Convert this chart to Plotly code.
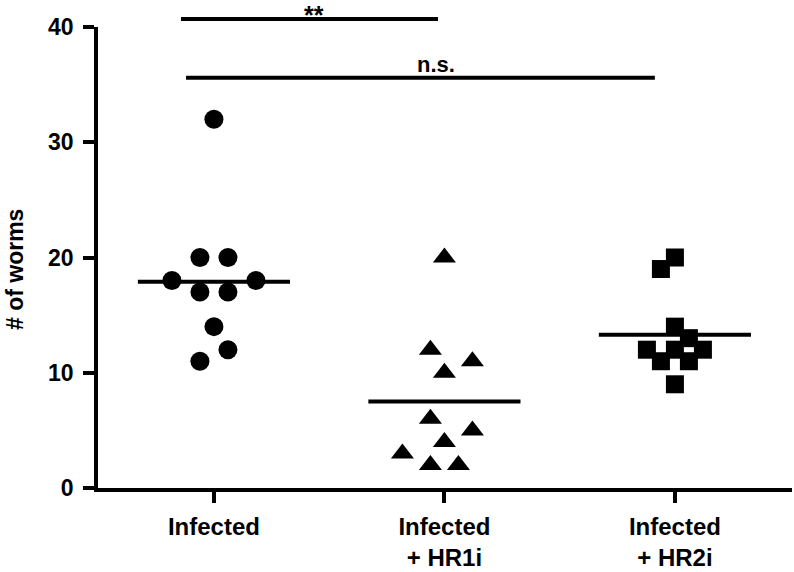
import numpy as np
import plotly.graph_objects as go

# worm counts per animal (listed in entry order)
groups = ["Infected", "Infected<br>+ HR1i", "Infected<br>+ HR2i"]
infected = [32, 20, 20, 17, 17, 18, 18, 14, 12, 11]
hr1i = [20, 10, 11, 12, 2, 2, 4, 3, 5, 6]
hr2i = [9, 11, 11, 12, 12, 12, 14, 13, 20, 19]

# significance brackets: label, from, to (category units), height (# of worms)
sig_text = ["**", "n.s."]
sig_from = [-0.143, -0.121]
sig_to = [0.972, 1.913]
sig_level = [40.7, 35.6]

W, H = 794, 572
L, R, T, B = 98, 2, 27, 84
XR = [-0.503, 2.508]
YR = [0, 40]
FONT = "Liberation Sans, Arial, sans-serif"

kx = (W - L - R) / (XR[1] - XR[0])   # px per category unit
ky = (H - T - B) / (YR[1] - YR[0])   # px per worm


def swarm(vals, gap, step=14):
    # greedy horizontal spreading (in px), points of equal value laid out symmetrically
    placed = []
    off = [0.0] * len(vals)
    done = []
    for v in vals:
        if v in done:
            continue
        done.append(v)
        idx = [i for i, w in enumerate(vals) if w == v]
        n = len(idx)
        bal = sum(p for p, _ in placed)
        cands = []
        for sp in range(2, 16):
            if n == 1 and sp > 2:
                break
            if n % 2 == 0 and sp % 2:
                continue
            for sh in range(0, 16):
                for sg in ((1, -1) if sh else (1,)):
                    pos = [((i - (n - 1) / 2) * sp + sg * sh) * step for i in range(n)]
                    cands.append((max(abs(p) for p in pos), sh, sg * bal > 0, pos))
        cands.sort(key=lambda c: (c[0], c[1], c[2]))
        y = v * ky
        for c in cands:
            pos = c[3]
            if all(np.hypot(p - px, y - py) >= gap for p in pos for px, py in placed):
                break
        for i, p in zip(idx, pos):
            off[i] = p / kx
            placed.append((p, y))
    return off


def paper_y(v):
    return (v - YR[0]) / (YR[1] - YR[0])


fig = go.Figure()

series = [(infected, "circle", 19, 25), (hr1i, "triangle-up", 20, 25), (hr2i, "square", 18, 17)]
for gi, (vals, sym, size, gap) in enumerate(series):
    off = swarm(vals, gap)
    fig.add_trace(go.Scatter(
        x=[gi + o for o in off], y=vals, mode="markers",
        marker=dict(symbol=sym, size=size, color="black", line=dict(width=0)),
        cliponaxis=False, showlegend=False))
    m = np.mean(vals)
    fig.add_trace(go.Scatter(
        x=[gi - 0.33, gi + 0.33], y=[m, m], mode="lines",
        line=dict(color="black", width=4), showlegend=False))

for txt, x0, x1, lev in zip(sig_text, sig_from, sig_to, sig_level):
    fig.add_shape(type="line", xref="x", yref="paper", x0=x0, x1=x1,
                  y0=paper_y(lev), y1=paper_y(lev), line=dict(color="black", width=4))

fig.add_annotation(x=0.434, xref="x", y=paper_y(YR[1]), yref="paper",
                   yanchor="bottom", yshift=-3, borderpad=0, text=sig_text[0], showarrow=False,
                   font=dict(family=FONT, size=25, color="black", weight="bold"))
fig.add_annotation(x=0.963, xref="x", y=paper_y(sig_level[1]), yref="paper",
                   yanchor="bottom", yshift=-1, text=sig_text[1], showarrow=False,
                   font=dict(family=FONT, size=22, color="black", weight="bold"))

fig.add_annotation(x=-0.1196, xref="paper", y=0.475, yref="paper", text="# of worms",
                   textangle=-90, showarrow=False, xanchor="center", yanchor="middle",
                   font=dict(family=FONT, size=23, color="black", weight="bold"))

axis_common = dict(showline=True, linecolor="black", linewidth=3.5, ticks="outside",
                   ticklen=11, tickwidth=3.5, tickcolor="black", showgrid=False,
                   zeroline=False, automargin=False)
fig.update_xaxes(range=XR, tickvals=[0, 1, 2], ticktext=groups, ticklabelstandoff=3,
                 tickfont=dict(family=FONT, size=24, color="black", weight="bold"),
                 **axis_common)
fig.update_yaxes(range=YR, tickvals=[0, 10, 20, 30, 40], ticklabelstandoff=5,
                 tickfont=dict(family=FONT, size=23, color="black", weight="bold"),
                 **axis_common)

fig.update_layout(width=W, height=H, margin=dict(l=L, r=R, t=T, b=B),
                  plot_bgcolor="white", paper_bgcolor="white")
# page body has a default 8px margin; drop it so the figure sits at the window corner
fig.write_html("out.html", config={"displayModeBar": False},
               post_script="document.body.style.margin='0';")
